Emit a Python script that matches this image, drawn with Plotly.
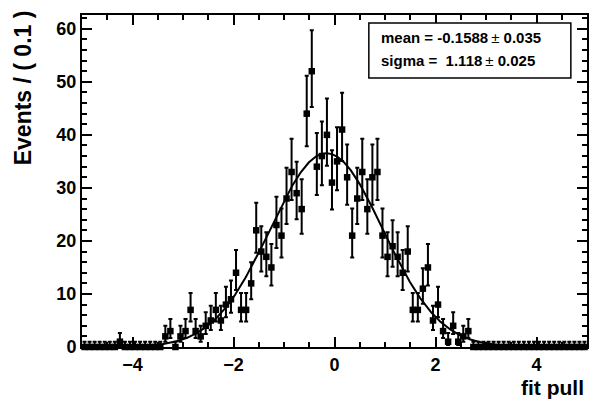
import numpy as np
import plotly.graph_objects as go

# Histogram of fit pulls: 100 bins of width 0.1 from -5 to 5
x_low, x_high, bin_width = -5.0, 5.0, 0.1
counts = [
    0, 0, 0, 0, 0, 0, 0, 1, 0, 0,          # -4.95 .. -4.05
    0, 0, 0, 0, 0, 0, 2, 3, 0, 2,          # -3.95 .. -3.05
    3, 7, 3, 2, 4, 5, 7, 5, 8, 9,          # -2.95 .. -2.05
    14, 7, 7, 12, 22, 18, 17, 15, 23, 21,  # -1.95 .. -1.05
    28, 33, 29, 26, 44, 52, 34, 36, 40, 31,  # -0.95 .. -0.05
    35, 41, 32, 21, 28, 33, 26, 32, 33, 21,  # 0.05 .. 0.95
    17, 19, 17, 14, 18, 7, 7, 11, 15, 5,   # 1.05 .. 1.95
    8, 3, 1, 4, 1, 2, 3, 0, 0, 0,          # 2.05 .. 2.95
    0, 0, 0, 0, 0, 0, 0, 0, 0, 0,          # 3.05 .. 3.95
    0, 0, 0, 0, 0, 0, 0, 0, 0, 0,          # 4.05 .. 4.95
]

# Gaussian fit result
fit_mean, fit_mean_err = -0.1588, 0.035
fit_sigma, fit_sigma_err = 1.118, 0.025

x_title = "fit pull"
y_title = "Events / ( 0.1 )"
y_max = 62.6

n = np.array(counts, dtype=float)
edges = np.linspace(x_low, x_high, len(counts) + 1)
centers = 0.5 * (edges[:-1] + edges[1:])

# Approximate Poisson (central 68%) asymmetric errors
err_hi = np.sqrt(n + 0.25) + 0.5
err_lo = np.sqrt(n + 0.25) - 0.5

# Fitted Gaussian scaled to the number of entries per bin
xs = np.linspace(x_low, x_high, 1001)
norm = n.sum() * bin_width / (fit_sigma * np.sqrt(2 * np.pi))
ys = norm * np.exp(-0.5 * ((xs - fit_mean) / fit_sigma) ** 2)

FONT = "Liberation Sans, Arial, Helvetica, sans-serif"

fig = go.Figure()
fig.add_trace(go.Scatter(
    x=centers, y=n, mode="markers",
    marker=dict(symbol="square", size=6.5, color="black"),
    error_y=dict(type="data", symmetric=False, array=err_hi, arrayminus=err_lo,
                 color="black", thickness=2, width=2),
    error_x=dict(type="constant", value=bin_width / 2, color="black",
                 thickness=1.5, width=0),
    cliponaxis=False, showlegend=False,
))
fig.add_trace(go.Scatter(
    x=xs, y=ys, mode="lines", line=dict(color="black", width=2),
    showlegend=False,
))

axis_common = dict(
    showline=True, linecolor="black", linewidth=2, mirror="ticks",
    ticks="inside", tickcolor="black", tickwidth=1.5,
    showgrid=False, zeroline=False,
    tickfont=dict(family=FONT, size=18, color="black", weight="bold"),
)
fig.update_xaxes(range=[x_low, x_high], dtick=2, tick0=0, ticklen=10,
                 minor=dict(dtick=0.5, ticks="inside", ticklen=5,
                            tickcolor="black", tickwidth=1.5),
                 **axis_common)
fig.update_yaxes(range=[0, y_max], dtick=10, tick0=0, ticklen=10,
                 minor=dict(dtick=2, ticks="inside", ticklen=5,
                            tickcolor="black", tickwidth=1.5),
                 **axis_common)

# Axis titles aligned to the ends of the axes
fig.add_annotation(text=y_title, textangle=-90, xref="paper", yref="paper",
                   x=-0.118, y=1.02, xanchor="center", yanchor="top",
                   showarrow=False,
                   font=dict(family=FONT, size=23, color="black", weight="bold"))
fig.add_annotation(text=x_title, xref="paper", yref="paper",
                   x=0.998, y=-0.122, xanchor="right", yanchor="middle",
                   showarrow=False,
                   font=dict(family=FONT, size=21, color="black", weight="bold"))

# Fit parameter box
fig.add_shape(type="rect", xref="paper", yref="paper",
              x0=0.568, x1=0.968, y0=0.81, y1=0.976,
              line=dict(color="black", width=1.5), fillcolor="white")
pm = "<span style='font-weight:normal'>±</span>"
box_lines = [
    f"mean = {fit_mean:.4f}\u2009{pm} {fit_mean_err:.3f}",
    f"sigma =\u00a0 {fit_sigma:.3f}\u2009{pm} {fit_sigma_err:.3f}",
]
for yy, txt in zip([0.933, 0.862], box_lines):
    fig.add_annotation(text=txt, xref="paper", yref="paper", x=0.588, y=yy,
                       xanchor="left", yanchor="middle", showarrow=False,
                       font=dict(family=FONT, size=15, color="black", weight="bold"))

fig.update_layout(
    width=591, height=400,
    margin=dict(l=82, r=2, t=15, b=53),
    paper_bgcolor="white", plot_bgcolor="white",
)

fig.write_html("out.html")
